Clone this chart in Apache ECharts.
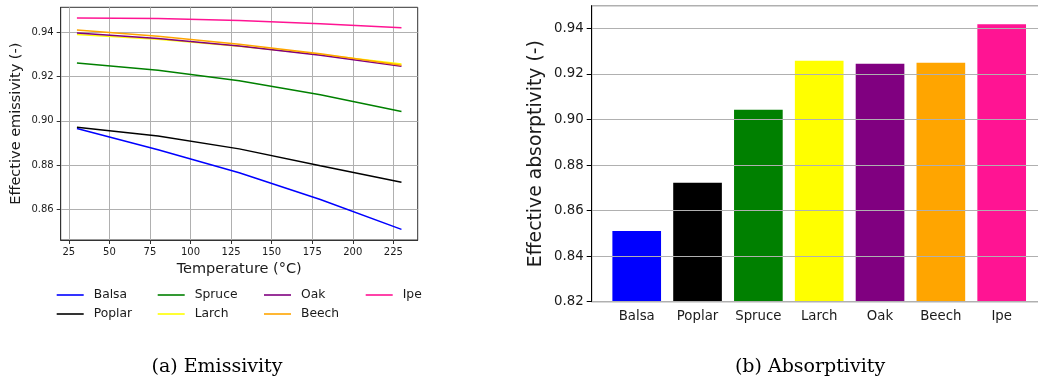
<!DOCTYPE html>
<html lang="en">
<head>
  <meta charset="UTF-8">
  <title>Emissivity / Absorptivity</title>
  <style>
    body { margin: 0; background: #fff; }
    #chart { width: 1038px; height: 382px; }
  </style>
  <script src="https://cdn.jsdelivr.net/npm/echarts@6.0.0/dist/echarts.min.js"></script>
</head>
<body>
<div id="chart"></div>
<script>
  // data
  var temps = [30, 80, 130, 180, 230];
  var woods = ['Balsa', 'Poplar', 'Spruce', 'Larch', 'Oak', 'Beech', 'Ipe'];
  var colors = ['#0000ff', '#000000', '#008000', '#ffff00', '#800080', '#ffa500', '#ff1493'];
  var balsa  = [0.8965, 0.8869, 0.8765, 0.8644, 0.8509];
  var poplar = [0.8971, 0.8931, 0.8873, 0.8797, 0.8722];
  var spruce = [0.9261, 0.9228, 0.9181, 0.9118, 0.9042];
  var larch  = [0.9390, 0.9368, 0.9337, 0.9300, 0.9257];
  var oak    = [0.9397, 0.9372, 0.9338, 0.9296, 0.9246];
  var beech  = [0.9410, 0.9382, 0.9346, 0.9303, 0.9251];
  var ipe    = [0.9465, 0.9462, 0.9453, 0.9439, 0.9421];
  var absorptivity = [0.8511, 0.8722, 0.9043, 0.9258, 0.9245, 0.9249, 0.9419];

  // tick values
  var tempTicks = [25, 50, 75, 100, 125, 150, 175, 200, 225];
  var emisTicks = [0.86, 0.88, 0.90, 0.92, 0.94];

  var emissivity = [balsa, poplar, spruce, larch, oak, beech, ipe];
  var font = 'DejaVu Sans';
  var txt = '#1a1a1a';

  var chart = echarts.init(document.getElementById('chart'));

  var lineSeries = woods.map(function (name, i) {
    return {
      name: name,
      type: 'line',
      xAxisIndex: 0,
      yAxisIndex: 0,
      symbol: 'none',
      color: colors[i],
      lineStyle: { width: 1.5, color: colors[i] },
      data: temps.map(function (t, j) { return [t, emissivity[i][j]]; })
    };
  });

  // one legend per column, like the 4x2 matplotlib legend
  function legendCol(names, left) {
    return {
      orient: 'vertical',
      left: left,
      top: 289,
      padding: 0,
      icon: 'rect',
      itemWidth: 27,
      itemHeight: 1.6,
      itemGap: 7,
      data: names,
      textStyle: { fontFamily: font, fontSize: 12.3, color: txt, padding: [0, 0, 0, 5] }
    };
  }

  var option = {
    animation: false,
    textStyle: { fontFamily: font },
    grid: [
      { left: 60.7, right: 620.3, top: 7.3, bottom: 142, show: true, borderColor: '#333', borderWidth: 1, outerBoundsMode: 'none' },
      { left: 591.7, right: -8.7, top: 5.7, bottom: 80.3, show: true, borderColor: '#333', borderWidth: 1, outerBoundsMode: 'none' },
      { left: 606.3, right: 5.9, top: 5.7, bottom: 80.3, outerBoundsMode: 'none' }
    ],
    xAxis: [
      {
        gridIndex: 0, type: 'value', min: 20, max: 240,
        name: 'Temperature (°C)', nameLocation: 'middle', nameGap: 21,
        nameTextStyle: { fontFamily: font, fontSize: 14.5, color: txt, verticalAlign: 'top' },
        axisLine: { lineStyle: { color: '#333' } },
        axisTick: { length: 4, customValues: tempTicks, lineStyle: { color: '#333' } },
        axisLabel: { fontFamily: font, fontSize: 10, color: txt, margin: 7, customValues: tempTicks },
        splitLine: { show: true, lineStyle: { color: '#b0b0b0', width: 1 } }
      },
      {
        gridIndex: 1, type: 'value', min: 0, max: 1,
        axisLine: { lineStyle: { color: '#000' } },
        axisTick: { show: false }, axisLabel: { show: false }, splitLine: { show: false }
      },
      {
        gridIndex: 2, type: 'category', data: woods,
        axisLine: { show: false },
        axisTick: { alignWithLabel: true, length: 5, lineStyle: { color: '#000' } },
        axisLabel: { fontFamily: font, fontSize: 13.3, color: txt, margin: 8, interval: 0 }
      }
    ],
    yAxis: [
      {
        gridIndex: 0, type: 'value', min: 0.8461, max: 0.9513,
        name: 'Effective emissivity (-)', nameLocation: 'middle', nameGap: 37,
        nameTextStyle: { fontFamily: font, fontSize: 14.5, color: txt },
        axisLine: { show: true, lineStyle: { color: '#333' } },
        axisTick: { show: true, length: 4, customValues: emisTicks, lineStyle: { color: '#333' } },
        axisLabel: { fontFamily: font, fontSize: 10, color: txt, margin: 7, customValues: emisTicks,
          formatter: function (v) { return v.toFixed(2); } },
        splitLine: { show: true, lineStyle: { color: '#b0b0b0', width: 1 } }
      },
      {
        gridIndex: 1, type: 'value', min: 0.82, max: 0.95, interval: 0.02, z: 10,
        name: 'Effective absorptivity (-)', nameLocation: 'middle', nameGap: 46,
        nameTextStyle: { fontFamily: font, fontSize: 18.8, color: txt },
        axisLine: { show: true, lineStyle: { color: '#000' } },
        axisTick: { show: true, length: 5, lineStyle: { color: '#000' } },
        axisLabel: { fontFamily: font, fontSize: 13.3, color: txt, margin: 8, showMaxLabel: false,
          formatter: function (v) { return v.toFixed(2); } },
        splitLine: { show: true, lineStyle: { color: '#b0b0b0', width: 1 } }
      },
      {
        gridIndex: 2, type: 'value', min: 0.82, max: 0.95, show: false, splitLine: { show: false }
      }
    ],
    legend: [
      legendCol(['Balsa', 'Poplar'], 56.7),
      legendCol(['Spruce', 'Larch'], 157.7),
      legendCol(['Oak', 'Beech'], 264),
      legendCol(['Ipe'], 365.7)
    ],
    graphic: [
      { type: 'text', x: 217, y: 367, style: { text: '(a) Emissivity', font: '19px "DejaVu Serif"', fill: '#000', align: 'center', verticalAlign: 'middle' } },
      { type: 'text', x: 810, y: 367, style: { text: '(b) Absorptivity', font: '19px "DejaVu Serif"', fill: '#000', align: 'center', verticalAlign: 'middle' } }
    ],
    series: lineSeries.concat([{
      type: 'bar',
      xAxisIndex: 2,
      yAxisIndex: 2,
      barWidth: '80%',
      data: absorptivity.map(function (v, i) {
        return { value: v, itemStyle: { color: colors[i] } };
      })
    }])
  };

  chart.setOption(option);
</script>
</body>
</html>
